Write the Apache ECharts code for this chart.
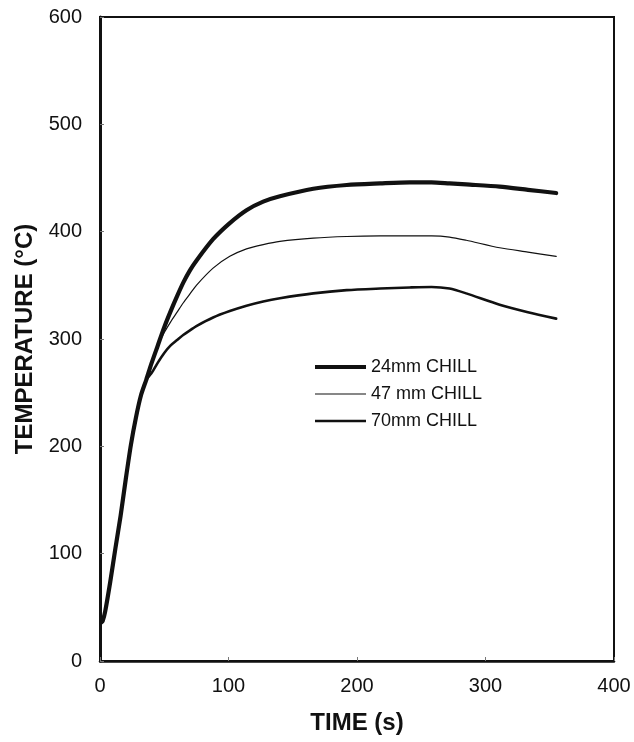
<!DOCTYPE html>
<html>
<head>
<meta charset="utf-8">
<script src="https://cdn.jsdelivr.net/npm/echarts@6/dist/echarts.min.js"></script>
<style>
  html, body { margin: 0; padding: 0; background: #fff; }
  #chart { width: 634px; height: 742px; }
</style>
</head>
<body>
<div id="chart"></div>
<script>
// Casting temperature history for three chill thicknesses
const timeS = [1, 2, 4, 8, 12, 16, 20, 24, 28, 32, 36, 40, 45, 50, 55, 60, 65, 70, 75, 88, 101, 114, 127, 140, 166, 192, 218, 241, 258, 272, 285, 311, 333, 355];

const chill24 = [36, 37, 46, 74, 105, 135, 169, 201, 227, 248, 262, 277, 294, 311, 326, 340, 353, 364, 373, 393, 408, 420, 428, 433, 440, 443.5, 445, 446, 446, 445, 444, 442, 439, 436];
const chill47 = [36, 37, 46, 74, 105, 135, 169, 201, 227, 248, 262, 277, 294, 306, 316, 325, 334, 342, 350, 366, 377, 384, 388, 391, 394, 395.5, 396, 396, 396, 395, 392, 385, 381, 377];
const chill70 = [36, 37, 46, 74, 105, 135, 169, 201, 227, 248, 262, 268, 278, 287, 294, 299, 304, 308, 312, 320, 326, 331, 335, 338, 342.5, 345.5, 347, 348, 348.5, 347, 342.5, 332, 325, 319];

const seriesNames = ['24mm CHILL', '47 mm CHILL', '70mm CHILL'];
const lineWidths = [4.2, 1.2, 2.6];
const xTicks = [0, 100, 200, 300, 400];
const yTicks = [0, 100, 200, 300, 400, 500, 600];

const pairs = vals => timeS.map((t, i) => [t, vals[i]]);
const ink = '#111';
const font = '"Liberation Sans", Arial, sans-serif';

const chart = echarts.init(document.getElementById('chart'), null, { renderer: 'canvas' });

const makeSeries = (name, vals, width) => ({
  name: name,
  type: 'line',
  data: pairs(vals),
  smooth: 0.25,
  symbol: 'none',
  lineStyle: { color: ink, width: width, cap: 'round', join: 'round' },
  itemStyle: { color: ink }
});

// One legend entry per row so each key bar keeps its own stroke weight
const legendRowTops = [353, 380, 407];
const legends = seriesNames.map((name, i) => ({
  data: [name],
  orient: 'vertical',
  left: 310, top: legendRowTops[i],
  icon: 'rect',
  itemWidth: 51, itemHeight: lineWidths[i],
  itemStyle: { color: ink },
  textStyle: { fontFamily: font, fontSize: 18, color: ink },
  selectedMode: false
}));

chart.setOption({
  backgroundColor: '#fff',
  animation: false,
  grid: {
    left: 100, right: 20, top: 17, bottom: 81,
    show: true, borderColor: ink, borderWidth: 2, backgroundColor: 'transparent'
  },
  legend: legends,
  xAxis: {
    type: 'value',
    min: xTicks[0], max: xTicks[xTicks.length - 1], interval: 100,
    name: 'TIME (s)',
    nameLocation: 'middle', nameGap: 50,
    nameTextStyle: { fontFamily: font, fontSize: 24, fontWeight: 'bold', color: ink },
    axisLine: { show: true, lineStyle: { color: ink, width: 2.5 } },
    axisTick: { show: true, inside: true, length: 4, lineStyle: { color: '#777', width: 1 } },
    axisLabel: { fontFamily: font, fontSize: 20, color: ink, margin: 15 },
    splitLine: { show: false }
  },
  yAxis: {
    type: 'value',
    min: yTicks[0], max: yTicks[yTicks.length - 1], interval: 100,
    name: 'TEMPERATURE (\u00B0C)',
    nameLocation: 'middle', nameGap: 62,
    nameTextStyle: { fontFamily: font, fontSize: 24, fontWeight: 'bold', color: ink },
    axisLine: { show: true, lineStyle: { color: ink, width: 3 } },
    axisTick: { show: true, inside: true, length: 4, lineStyle: { color: '#777', width: 1 } },
    axisLabel: { fontFamily: font, fontSize: 20, color: ink, margin: 18 },
    splitLine: { show: false }
  },
  series: seriesNames.map((name, i) => makeSeries(name, [chill24, chill47, chill70][i], lineWidths[i]))
});
</script>
</body>
</html>
